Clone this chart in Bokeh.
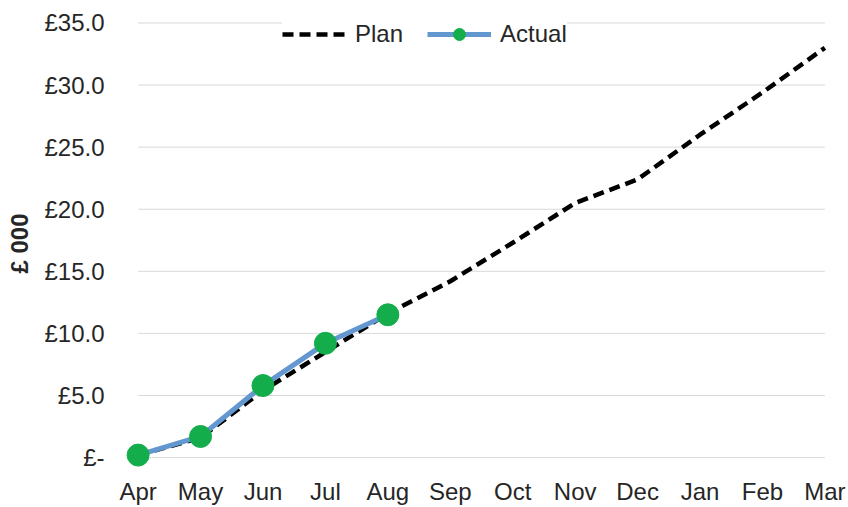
from bokeh.plotting import figure
from bokeh.models import Range1d, FixedTicker, Legend, LegendItem
from bokeh.embed import file_html
from bokeh.resources import INLINE

# Cumulative spend by month, in £ thousands
months = ["Apr", "May", "Jun", "Jul", "Aug", "Sep", "Oct", "Nov", "Dec", "Jan", "Feb", "Mar"]
plan = [0.2, 1.6, 5.4, 8.5, 11.6, 14.2, 17.3, 20.5, 22.4, 26.0, 29.4, 33.0]
actual = [0.2, 1.7, 5.8, 9.2, 11.5]
y_ticks = [0, 5, 10, 15, 20, 25, 30, 35]
y_tick_labels = ["£-", "£5.0", "£10.0", "£15.0", "£20.0", "£25.0", "£30.0", "£35.0"]

FONT = "Liberation Sans"
TEXT = "#262626"

x_plan = list(range(len(months)))
x_actual = list(range(len(actual)))

p = figure(
    width=848, height=507,
    x_range=Range1d(-0.25, len(months) - 0.75),
    y_range=Range1d(-0.96, 35.44),
    output_backend="svg", toolbar_location=None,
    min_border_left=122, min_border_right=8,
    min_border_top=17, min_border_bottom=34,
)
p.outline_line_color = None
p.xgrid.visible = False
p.ygrid.visible = False

# horizontal gridlines spanning the first to last month
p.segment(x0=[0] * len(y_ticks), x1=[len(months) - 1] * len(y_ticks),
          y0=y_ticks, y1=y_ticks, line_color="#d9d9d9", line_width=1)

plan_r = p.line(x_plan, plan, line_color="black", line_width=4.5,
                line_dash="11 6")
act_line = p.line(x_actual, actual, line_color="#6397d0", line_width=5)
act_pts = p.scatter(x_actual, actual, size=22, fill_color="#14ad4c",
                    line_color="#14ad4c")

# axes
p.xaxis.ticker = FixedTicker(ticks=x_plan)
p.xaxis.major_label_overrides = {i: m for i, m in enumerate(months)}
p.yaxis.ticker = FixedTicker(ticks=y_ticks)
p.yaxis.major_label_overrides = {t: l for t, l in zip(y_ticks, y_tick_labels)}
for ax in (p.xaxis, p.yaxis):
    ax.axis_line_color = None
    ax.major_tick_line_color = None
    ax.minor_tick_line_color = None
    ax.major_label_text_font = FONT
    ax.major_label_text_font_size = "24px"
    ax.major_label_text_color = TEXT
p.xaxis.major_label_standoff = 2
p.yaxis.major_label_standoff = 12
p.yaxis.axis_label = "£ 000"
p.yaxis.axis_label_text_font = FONT
p.yaxis.axis_label_text_font_style = "bold"
p.yaxis.axis_label_text_font_size = "24px"
p.yaxis.axis_label_text_color = TEXT
p.yaxis.axis_label_standoff = 8

legend = Legend(
    items=[LegendItem(label="Plan", renderers=[plan_r]),
           LegendItem(label="Actual", renderers=[act_line, act_pts])],
    orientation="horizontal",
    location=(160, 420),
    label_text_font=FONT, label_text_font_size="24px", label_text_color=TEXT,
    glyph_width=64, glyph_height=30, label_standoff=9, spacing=24,
    padding=0, margin=0,
    background_fill_color="white", background_fill_alpha=1.0,
    border_line_color=None,
)
p.add_layout(legend, "center")

open("out.html", "w").write(file_html(p, INLINE))
